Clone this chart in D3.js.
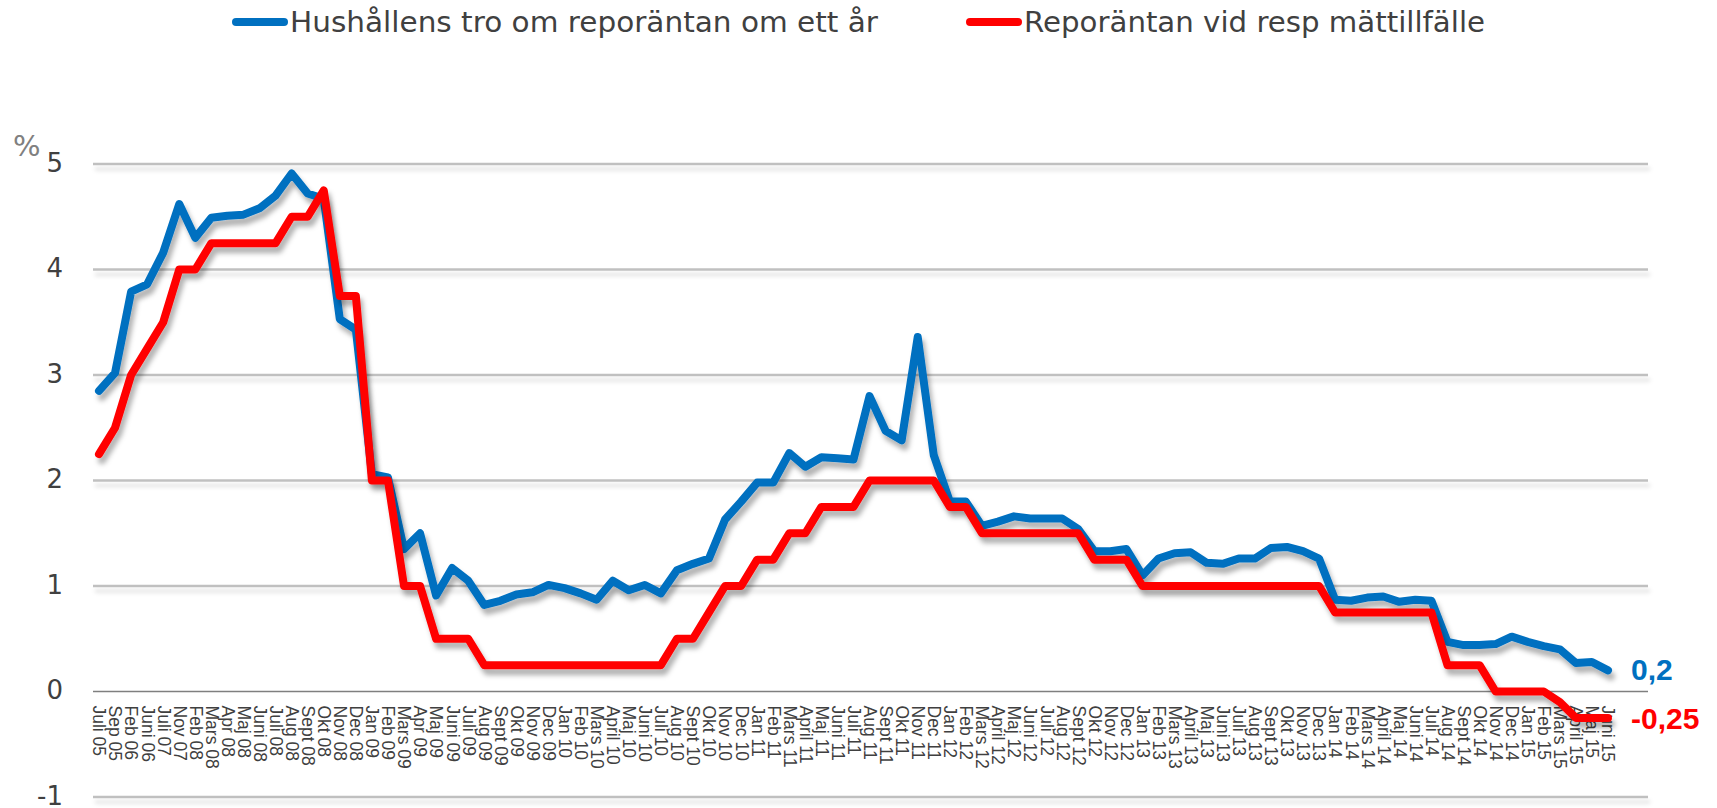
<!DOCTYPE html>
<html>
<head>
<meta charset="utf-8">
<script src="https://cdn.jsdelivr.net/npm/d3@7"></script>
<style>
  body { margin: 0; background: #fff; }
  svg { display: block; }
</style>
</head>
<body>
<div id="chart"></div>
<script>
// chart values
const labels = ["Juli 05","Sep 05","Feb 06","Juni 06","Juli 07","Nov 07","Feb 08","Mars 08","Apr 08","Maj 08",
  "Juni 08","Juli 08","Aug 08","Sept 08","Okt 08","Nov 08","Dec 08","Jan 09","Feb 09","Mars 09",
  "Apr 09","Maj 09","Juni 09","Juli 09","Aug 09","Sept 09","Okt 09","Nov 09","Dec 09","Jan 10",
  "Feb 10","Mars 10","April 10","Maj 10","Juni 10","Juli 10","Aug 10","Sept 10","Okt 10","Nov 10",
  "Dec 10","Jan 11","Feb 11","Mars 11","April 11","Maj 11","Juni 11","Juli 11","Aug 11","Sept 11",
  "Okt 11","Nov 11","Dec 11","Jan 12","Feb 12","Mars 12","April 12","Maj 12","Juni 12","Juli 12",
  "Aug 12","Sept 12","Okt 12","Nov 12","Dec 12","Jan 13","Feb 13","Mars 13","April 13","Maj 13",
  "Juni 13","Juli 13","Aug 13","Sept 13","Okt 13","Nov 13","Dec 13","Jan 14","Feb 14","Mars 14",
  "April 14","Maj 14","Juni 14","Juli 14","Aug 14","Sept 14","Okt 14","Nov 14","Dec 14","Jan 15",
  "Feb 15","Mars 15","April 15","Maj 15","Juni 15"];

const hushall = [2.85,3.02,3.79,3.86,4.16,4.62,4.30,4.49,4.51,4.52,
  4.58,4.70,4.91,4.72,4.67,3.53,3.43,2.06,2.03,1.35,
  1.50,0.91,1.17,1.05,0.82,0.86,0.92,0.94,1.01,0.98,
  0.93,0.87,1.05,0.96,1.01,0.93,1.15,1.21,1.26,1.63,
  1.80,1.98,1.98,2.26,2.13,2.22,2.21,2.20,2.80,2.47,
  2.38,3.36,2.24,1.80,1.80,1.57,1.61,1.66,1.64,1.64,
  1.64,1.54,1.33,1.33,1.35,1.10,1.26,1.31,1.32,1.22,
  1.21,1.26,1.26,1.36,1.37,1.33,1.26,0.87,0.86,0.89,
  0.90,0.85,0.87,0.86,0.47,0.44,0.44,0.45,0.52,0.47,
  0.43,0.40,0.27,0.28,0.20];

const repo = [2.25,2.5,3.0,3.25,3.5,4.0,4.0,4.25,4.25,4.25,
  4.25,4.25,4.5,4.5,4.75,3.75,3.75,2.0,2.0,1.0,
  1.0,0.5,0.5,0.5,0.25,0.25,0.25,0.25,0.25,0.25,
  0.25,0.25,0.25,0.25,0.25,0.25,0.5,0.5,0.75,1.0,
  1.0,1.25,1.25,1.5,1.5,1.75,1.75,1.75,2.0,2.0,
  2.0,2.0,2.0,1.75,1.75,1.5,1.5,1.5,1.5,1.5,
  1.5,1.5,1.25,1.25,1.25,1.0,1.0,1.0,1.0,1.0,
  1.0,1.0,1.0,1.0,1.0,1.0,1.0,0.75,0.75,0.75,
  0.75,0.75,0.75,0.75,0.25,0.25,0.25,0,0,0,
  0,-0.1,-0.25,-0.25,-0.25];

const yTicks = [-1, 0, 1, 2, 3, 4, 5];
const seriesNames = ["Hushållens tro om reporäntan om ett år", "Reporäntan vid resp mättillfälle"];
const endLabels = ["0,2", "-0,25"];

const width = 1717, height = 808;
const blue = "#0070c0", red = "#ff0000";

const svg = d3.select("#chart")
  .append("svg")
  .attr("width", width)
  .attr("height", height);

// soft shadows, in user space so flat lines keep them
const defs = svg.append("defs");
defs.append("filter").attr("id", "shadow")
  .attr("filterUnits", "userSpaceOnUse")
  .attr("x", 0).attr("y", 0).attr("width", width).attr("height", height)
  .append("feDropShadow")
  .attr("dx", 3).attr("dy", 6).attr("stdDeviation", 2.5)
  .attr("flood-color", "#000").attr("flood-opacity", 0.3);
defs.append("filter").attr("id", "gridshadow")
  .attr("filterUnits", "userSpaceOnUse")
  .attr("x", 0).attr("y", 0).attr("width", width).attr("height", height)
  .append("feDropShadow")
  .attr("dx", 2).attr("dy", 5).attr("stdDeviation", 2)
  .attr("flood-color", "#000").attr("flood-opacity", 0.15);

const xScale = d3.scalePoint()
  .domain(labels)
  .range([99, 1608]);

const yScale = d3.scaleLinear()
  .domain([-1, 5])
  .range([797, 164]);

const gridLeft = 93, gridRight = 1648;

// gridlines
svg.append("g")
  .selectAll("line")
  .data(yTicks.filter(d => d !== 0))
  .enter()
  .append("line")
    .attr("x1", gridLeft)
    .attr("x2", gridRight)
    .attr("y1", d => yScale(d))
    .attr("y2", d => yScale(d))
    .attr("stroke", "#c0c0c0")
    .attr("stroke-width", 2.5)
    .attr("filter", "url(#gridshadow)");

// y axis labels
const yAxis = svg.append("g")
  .attr("transform", `translate(63,0)`)
  .call(d3.axisLeft(yScale).tickValues(yTicks).tickSize(0).tickPadding(0).tickFormat(d => String(d)));
yAxis.select(".domain").remove();
yAxis.selectAll("text")
  .attr("font-family", "'DejaVu Sans', Verdana, sans-serif")
  .attr("font-size", "26px")
  .attr("dy", "0.28em")
  .attr("fill", "#404040");

svg.append("text")
  .attr("x", 13)
  .attr("y", 156)
  .attr("font-family", "'DejaVu Sans', Verdana, sans-serif")
  .attr("font-size", "29px")
  .attr("fill", "#808080")
  .text("%");

// zero line
svg.append("line")
  .attr("x1", gridLeft)
  .attr("x2", gridRight)
  .attr("y1", yScale(0))
  .attr("y2", yScale(0))
  .attr("stroke", "#7f7f7f")
  .attr("stroke-width", 1.5);

// x labels
const xAxis = svg.append("g")
  .attr("transform", `translate(0,${yScale(0)})`)
  .call(d3.axisBottom(xScale).tickSize(0).tickPadding(0));
xAxis.select(".domain").remove();
xAxis.selectAll("text")
  .attr("font-family", "'Liberation Sans', Arial, sans-serif")
  .attr("font-size", "17.5px")
  .attr("fill", "#404040")
  .attr("text-anchor", "start")
  .attr("transform", "translate(0,14) rotate(90)")
  .attr("x", 0)
  .attr("y", 0)
  .attr("dy", "0.35em");

// lines
const line = d3.line()
  .x((d, i) => xScale(labels[i]))
  .y(d => yScale(d));

[[hushall, blue], [repo, red]].forEach(([vals, c]) => {
  svg.append("path")
    .datum(vals)
    .attr("d", line)
    .attr("fill", "none")
    .attr("stroke", c)
    .attr("stroke-width", 8)
    .attr("stroke-linejoin", "round")
    .attr("stroke-linecap", "round")
    .attr("filter", "url(#shadow)");
});

// end values
const last = labels.length - 1;
svg.append("text")
  .attr("x", xScale(labels[last]) + 23)
  .attr("y", yScale(hushall[last]) + 10)
  .attr("font-family", "'Liberation Sans', Arial, sans-serif")
  .attr("font-weight", "bold")
  .attr("font-size", "30px")
  .attr("fill", blue)
  .text(endLabels[0]);

svg.append("text")
  .attr("x", xScale(labels[last]) + 23)
  .attr("y", yScale(repo[last]) + 11)
  .attr("font-family", "'Liberation Sans', Arial, sans-serif")
  .attr("font-weight", "bold")
  .attr("font-size", "30px")
  .attr("fill", red)
  .text(endLabels[1]);

// legend
const legend = svg.append("g");
const legendX = [232, 966];
const legendW = [588, 461];
[blue, red].forEach((c, i) => {
  legend.append("line")
    .attr("x1", legendX[i] + 4)
    .attr("x2", legendX[i] + 52)
    .attr("y1", 22)
    .attr("y2", 22)
    .attr("stroke", c)
    .attr("stroke-width", 8)
    .attr("stroke-linecap", "round");
  legend.append("text")
    .attr("x", legendX[i] + 58)
    .attr("y", 32)
    .attr("font-family", "'DejaVu Sans', Verdana, sans-serif")
    .attr("font-size", "28px")
    .attr("fill", "#404040")
    .attr("textLength", legendW[i])
    .attr("lengthAdjust", "spacingAndGlyphs")
    .text(seriesNames[i]);
});
</script>
</body>
</html>
